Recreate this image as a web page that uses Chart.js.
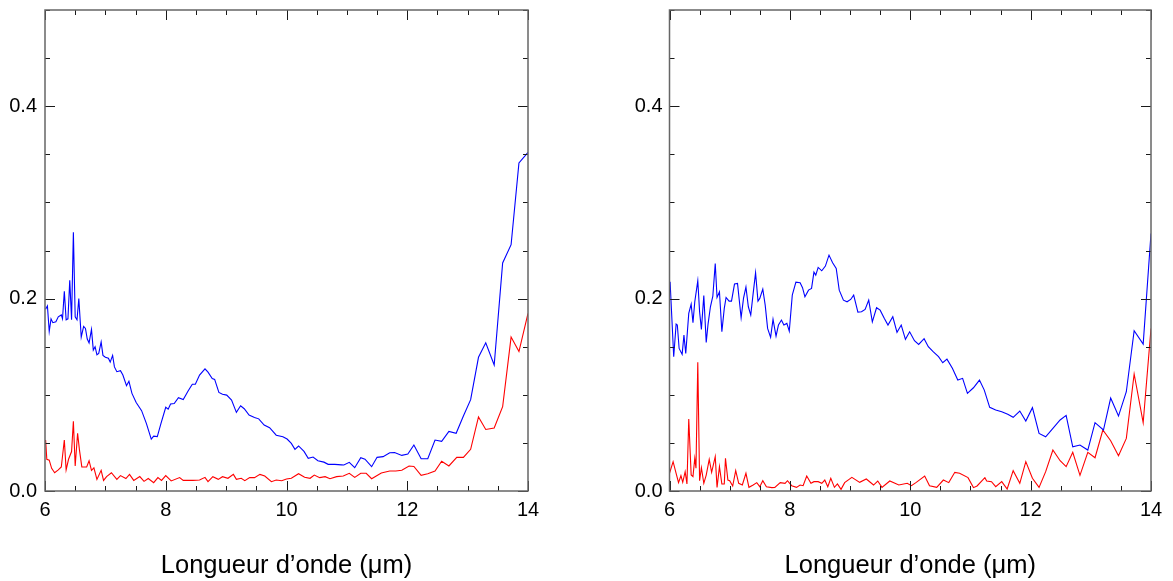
<!DOCTYPE html>
<html>
<head>
<meta charset="utf-8">
<script src="https://cdn.jsdelivr.net/npm/chart.js@4.4.1/dist/chart.umd.min.js"></script>
<style>
    html, body { margin: 0; padding: 0; background: #fff; }
    #wrap { position: relative; width: 1173px; height: 581px; }
    canvas { position: absolute; top: 0; }
    #left { left: 0; }
    #right { left: 620px; }
</style>
</head>
<body>
<div id="wrap">
    <canvas id="left" width="560" height="581"></canvas>
    <canvas id="right" width="553" height="581"></canvas>
</div>
<script>
// Axis ticks
const xTicks = [6, 8, 10, 12, 14];
const yTicks = [0, 0.2, 0.4];
const xTitle = 'Longueur d\u2019onde (\u03bcm)';

// Left panel - blue
const leftBlueX = [6.01, 6.04, 6.07, 6.10, 6.13, 6.18, 6.22, 6.27, 6.29, 6.32, 6.35, 6.38, 6.41, 6.44, 6.47, 6.50, 6.53, 6.56, 6.60, 6.64,
    6.67, 6.70, 6.73, 6.77, 6.80, 6.83, 6.86, 6.89, 6.93, 6.96, 7.00, 7.05, 7.08, 7.12, 7.15, 7.19, 7.25, 7.29, 7.35, 7.39,
    7.44, 7.51, 7.60, 7.68, 7.76, 7.80, 7.86, 7.92, 8.00, 8.04, 8.08, 8.14, 8.21, 8.29, 8.37, 8.44, 8.49, 8.56, 8.65, 8.70,
    8.77, 8.81, 8.88, 8.94, 9.01, 9.09, 9.17, 9.24, 9.30, 9.38, 9.47, 9.54, 9.63, 9.72, 9.83, 9.94, 10.01, 10.08, 10.14, 10.20,
    10.29, 10.36, 10.44, 10.52, 10.62, 10.69, 10.80, 10.91, 10.95, 11.04, 11.13, 11.23, 11.30, 11.41, 11.50, 11.60, 11.71, 11.79, 11.91, 12.01,
    12.11, 12.23, 12.34, 12.46, 12.57, 12.69, 12.81, 12.93, 13.05, 13.18, 13.30, 13.44, 13.58, 13.72, 13.85, 14.00];
const leftBlueY = [0.189, 0.1925, 0.166, 0.179, 0.175, 0.176, 0.181, 0.183, 0.179, 0.2075, 0.178, 0.179, 0.219, 0.178, 0.269, 0.181, 0.178, 0.200, 0.160, 0.171,
    0.169, 0.158, 0.154, 0.168, 0.1465, 0.150, 0.1416, 0.143, 0.155, 0.141, 0.139, 0.138, 0.134, 0.141, 0.129, 0.124, 0.125, 0.1205, 0.1094, 0.114,
    0.1015, 0.092, 0.0835, 0.070, 0.054, 0.057, 0.0565, 0.070, 0.087, 0.085, 0.0904, 0.091, 0.097, 0.095, 0.104, 0.111, 0.111, 0.1205, 0.127, 0.1235,
    0.117, 0.116, 0.1025, 0.1006, 0.0997, 0.0945, 0.0817, 0.0886, 0.0855, 0.079, 0.0765, 0.075, 0.0686, 0.0658, 0.058, 0.0565, 0.054, 0.0495, 0.0433, 0.0468,
    0.0412, 0.034, 0.0353, 0.0315, 0.030, 0.0277, 0.0277, 0.0272, 0.027, 0.0298, 0.0242, 0.0346, 0.033, 0.0253, 0.035, 0.0357, 0.0398, 0.040, 0.037, 0.0384,
    0.0478, 0.0336, 0.0336, 0.053, 0.0516, 0.062, 0.060, 0.078, 0.0949, 0.139, 0.154, 0.131, 0.237, 0.256, 0.341, 0.352];

// Left panel - red
const leftRedX = [6.01, 6.03, 6.07, 6.11, 6.16, 6.22, 6.27, 6.32, 6.35, 6.39, 6.44, 6.47, 6.50, 6.54, 6.57, 6.61, 6.69, 6.73, 6.77, 6.81,
    6.86, 6.93, 6.97, 7.02, 7.10, 7.19, 7.25, 7.34, 7.40, 7.47, 7.57, 7.64, 7.71, 7.80, 7.87, 7.93, 8.00, 8.09, 8.23, 8.29, 8.45,
    8.56, 8.65, 8.70, 8.78, 8.87, 8.94, 9.03, 9.12, 9.17, 9.25, 9.31, 9.39, 9.47, 9.56, 9.64, 9.75, 9.83, 9.92, 10.00, 10.08,
    10.20, 10.30, 10.39, 10.46, 10.55, 10.64, 10.72, 10.83, 10.94, 11.04, 11.13, 11.23, 11.32,
    11.41, 11.57, 11.71, 11.81, 11.91, 12.03, 12.11, 12.23, 12.34, 12.46, 12.57, 12.69, 12.82, 12.93, 13.05, 13.18, 13.30, 13.44, 13.58, 13.72, 13.85, 14.00];
const leftRedY = [0.053, 0.033, 0.032, 0.0236, 0.019, 0.022, 0.025, 0.053, 0.022, 0.033, 0.041, 0.0724, 0.026, 0.060, 0.043, 0.025, 0.025, 0.0315, 0.0215, 0.024,
    0.012, 0.0215, 0.011, 0.015, 0.019, 0.012, 0.016, 0.013, 0.0172, 0.011, 0.015, 0.010, 0.013, 0.0087, 0.014, 0.011, 0.016, 0.0105, 0.014, 0.011, 0.011,
    0.0114, 0.0142, 0.0097, 0.0149, 0.0121, 0.0149, 0.0132, 0.0173, 0.0121, 0.0132, 0.0107, 0.0139, 0.0139, 0.0173, 0.0156, 0.0097, 0.0114, 0.0107, 0.0125, 0.0132,
    0.018, 0.0142, 0.0132, 0.0166, 0.0139, 0.0149, 0.0128, 0.0149, 0.0156, 0.0184, 0.0142, 0.0184, 0.0184,
    0.0128, 0.0187, 0.0208, 0.0208, 0.0215, 0.026, 0.0255, 0.0163, 0.018, 0.0208, 0.031, 0.026, 0.035, 0.035, 0.0433, 0.077, 0.064, 0.0655, 0.0876, 0.160, 0.145, 0.1846];

// Right panel - blue
const rightBlueX = [6.01, 6.07, 6.11, 6.13, 6.16, 6.21, 6.24, 6.27, 6.32, 6.36, 6.39, 6.42, 6.47, 6.50, 6.53, 6.57, 6.61, 6.64, 6.68, 6.72,
    6.76, 6.79, 6.83, 6.87, 6.91, 6.94, 6.99, 7.03, 7.08, 7.13, 7.19, 7.23, 7.27, 7.31, 7.35, 7.39, 7.43, 7.47, 7.50, 7.55,
    7.59, 7.63, 7.68, 7.72, 7.77, 7.81, 7.86, 7.90, 7.95, 7.99, 8.04, 8.10, 8.17, 8.21, 8.25, 8.31, 8.36, 8.40, 8.43, 8.47,
    8.53, 8.59, 8.65, 8.71, 8.77, 8.82, 8.89, 8.95, 9.01, 9.06, 9.13, 9.19, 9.25, 9.31, 9.37, 9.44, 9.50, 9.57, 9.63, 9.71,
    9.78, 9.85, 9.92, 9.99, 10.07, 10.14, 10.23, 10.30, 10.38, 10.47, 10.54, 10.61, 10.70, 10.79, 10.87, 10.95, 11.05, 11.15, 11.23,
    11.32, 11.42, 11.52, 11.62, 11.71, 11.82, 11.92, 12.03, 12.14, 12.25, 12.37, 12.49, 12.59, 12.70, 12.82, 12.95, 13.07, 13.21, 13.33, 13.46,
    13.59, 13.72, 13.87, 14.00];
const rightBlueY = [0.2175, 0.1396, 0.1735, 0.1725, 0.1482, 0.142, 0.162, 0.143, 0.1846, 0.1943, 0.1749, 0.1967, 0.2185, 0.1863, 0.168, 0.2033, 0.1545, 0.1732, 0.1915, 0.2026,
    0.2365, 0.2012, 0.2071, 0.1655, 0.1898, 0.2012, 0.1974, 0.1974, 0.2151, 0.2158, 0.1801, 0.2005, 0.212, 0.1915, 0.1829, 0.2054, 0.2268, 0.1974, 0.2002, 0.2099,
    0.1932, 0.169, 0.1597, 0.1784, 0.161, 0.1725, 0.1777, 0.1725, 0.1742, 0.1662, 0.2036, 0.2171, 0.2164, 0.2113, 0.2019, 0.2088, 0.2106, 0.2275, 0.2244, 0.2324,
    0.2289, 0.2338, 0.2452, 0.2372, 0.2314, 0.2088, 0.1984, 0.1967, 0.1991, 0.2036, 0.186, 0.1863, 0.1888, 0.1984, 0.1759, 0.1905, 0.188, 0.1794, 0.1725, 0.1811,
    0.1649, 0.1725, 0.1576, 0.1655, 0.1562, 0.1524, 0.1583, 0.15, 0.1448, 0.1396, 0.1333, 0.1371, 0.1275, 0.1153, 0.1171, 0.1015, 0.1073, 0.1153, 0.1049,
    0.087, 0.0842, 0.0824, 0.0797, 0.0766, 0.0831, 0.0727, 0.0866, 0.0599, 0.0564, 0.0651, 0.0738, 0.0786, 0.046, 0.0478, 0.0426, 0.071, 0.0634, 0.0966, 0.0779,
    0.1032, 0.1666, 0.1527, 0.2677];

// Right panel - red
const rightRedX = [6.00, 6.06, 6.11, 6.15, 6.19, 6.22, 6.26, 6.29, 6.32, 6.36, 6.39, 6.42, 6.44, 6.47, 6.50, 6.53, 6.57, 6.61, 6.66, 6.70,
    6.76, 6.79, 6.83, 6.87, 6.91, 6.93, 6.97, 7.00, 7.05, 7.10, 7.15, 7.21, 7.27, 7.32, 7.39, 7.45, 7.50, 7.55, 7.61, 7.70,
    7.75, 7.84, 7.92, 7.96, 8.03, 8.11, 8.17, 8.22, 8.28, 8.35, 8.40, 8.47, 8.53,
    8.58, 8.63, 8.68, 8.74, 8.79, 8.85, 8.91, 9.03, 9.16, 9.27, 9.39, 9.46, 9.53, 9.66, 9.81, 9.95, 10.02, 10.10, 10.24, 10.32,
    10.44, 10.55, 10.64, 10.74, 10.82, 10.96, 11.05, 11.11, 11.24,
    11.27, 11.35, 11.42, 11.52, 11.61, 11.71, 11.82, 11.92, 12.03, 12.14, 12.25, 12.37, 12.49, 12.59, 12.70, 12.82, 12.95, 13.07, 13.20, 13.33,
    13.46, 13.59, 13.72, 13.87, 14.00];
const rightRedY = [0.0184, 0.0305, 0.0184, 0.0087, 0.0159, 0.009, 0.0201, 0.0073, 0.0748, 0.0166, 0.0149, 0.034, 0.0236, 0.1337, 0.0107, 0.0242, 0.008, 0.0166, 0.0329, 0.0194,
    0.0357, 0.0038, 0.0253, 0.0073, 0.0073, 0.034, 0.0114, 0.0107, 0.0052, 0.0211, 0.008, 0.0062, 0.0184, 0.0038, 0.0062, 0.0087, 0.0045, 0.0107, 0.0045, 0.0035,
    0.0038, 0.0087, 0.008, 0.0107, 0.0055, 0.0038, 0.0062, 0.0055, 0.0156, 0.008, 0.0097, 0.0097, 0.008,
    0.0114, 0.0045, 0.0132, 0.0038, 0.0073, 0.0017, 0.0087, 0.0142, 0.009, 0.0125, 0.0062, 0.0104, 0.0038, 0.0104, 0.0062, 0.008, 0.0055, 0.009, 0.0156, 0.0055,
    0.0038, 0.0114, 0.0087, 0.0194, 0.0184, 0.0139, 0.0035, 0.0052, 0.0139,
    0.0104, 0.0097, 0.0045, 0.0097, 0.0021, 0.0211, 0.008, 0.0305, 0.0132, 0.0038, 0.0201, 0.0426, 0.0315, 0.0253, 0.0402, 0.0163, 0.0402, 0.0346, 0.0634, 0.0523,
    0.0367, 0.0547, 0.1216, 0.071, 0.169];

const fontFamily = '"Liberation Sans", Arial, Helvetica, sans-serif';
const blue = '#0000ff';
const red = '#ff0000';

// Box frame with inward major/minor ticks on all four sides
const frameTicks = {
    id: 'frameTicks',
    afterDatasetsDraw(chart) {
        const { ctx, chartArea: a, scales: { x, y } } = chart;
        ctx.save();
        ctx.strokeStyle = '#1a1a1a';
        ctx.lineWidth = 1;
        ctx.beginPath();
        for (let i = 0; i <= 16; i++) {
            const px = Math.round(x.getPixelForValue(6 + i * 0.5)) + 0.5;
            const len = i % 4 === 0 ? 10 : 5;
            ctx.moveTo(px, a.bottom); ctx.lineTo(px, a.bottom - len);
            ctx.moveTo(px, a.top); ctx.lineTo(px, a.top + len);
        }
        for (let i = 0; i <= 10; i++) {
            const py = Math.round(y.getPixelForValue(i * 0.05)) + 0.5;
            const len = i % 4 === 0 ? 10 : 5;
            ctx.moveTo(a.left, py); ctx.lineTo(a.left + len, py);
            ctx.moveTo(a.right, py); ctx.lineTo(a.right - len, py);
        }
        ctx.stroke();
        ctx.strokeStyle = '#666';
        ctx.lineWidth = 1.5;
        ctx.strokeRect(a.left, a.top, a.right - a.left, a.bottom - a.top);
        ctx.restore();
    },
};

const line = (xs, ys, color) => ({
    data: xs.map((v, i) => ({ x: v, y: ys[i] })),
    borderColor: color,
    borderWidth: 1.1,
    pointRadius: 0,
    tension: 0,
    fill: false,
});

function makePanel(id, datasets, axisWidth, labelPad, padRight) {
    return new Chart(document.getElementById(id), {
        type: 'line',
        data: { datasets },
        options: {
            responsive: false,
            animation: false,
            devicePixelRatio: 1,
            layout: { padding: { top: 10, right: padRight, bottom: 0, left: 0 } },
            plugins: {
                legend: { display: false },
                tooltip: { enabled: false },
            },
            scales: {
                x: {
                    type: 'linear',
                    min: 6,
                    max: 14,
                    grid: { display: false, drawTicks: false },
                    border: { display: false },
                    afterBuildTicks: (s) => { s.ticks = xTicks.map(v => ({ value: v })); },
                    ticks: {
                        padding: 7,
                        color: '#000',
                        maxRotation: 0,
                        font: { family: fontFamily, size: 20 },
                        callback: (v) => String(v),
                    },
                    title: {
                        display: true,
                        text: xTitle,
                        color: '#000',
                        font: { family: fontFamily, size: 25.5 },
                        padding: { top: 0, bottom: 0 },
                    },
                    afterFit: (s) => { s.height = 90; s.paddingLeft = 0; s.paddingRight = 0; },
                },
                y: {
                    min: 0,
                    max: 0.5,
                    grid: { display: false, drawTicks: false },
                    border: { display: false },
                    afterBuildTicks: (s) => { s.ticks = yTicks.map(v => ({ value: v })); },
                    ticks: {
                        padding: labelPad,
                        color: '#000',
                        font: { family: fontFamily, size: 20 },
                        callback: (v) => v.toFixed(1),
                    },
                    afterFit: (s) => { s.width = axisWidth; s.paddingTop = 0; s.paddingBottom = 0; },
                },
            },
        },
        plugins: [frameTicks],
    });
}

makePanel('left', [line(leftBlueX, leftBlueY, blue), line(leftRedX, leftRedY, red)], 45, 8, 32);
makePanel('right', [line(rightBlueX, rightBlueY, blue), line(rightRedX, rightRedY, red)], 49.5, 7, 22);
</script>
</body>
</html>
